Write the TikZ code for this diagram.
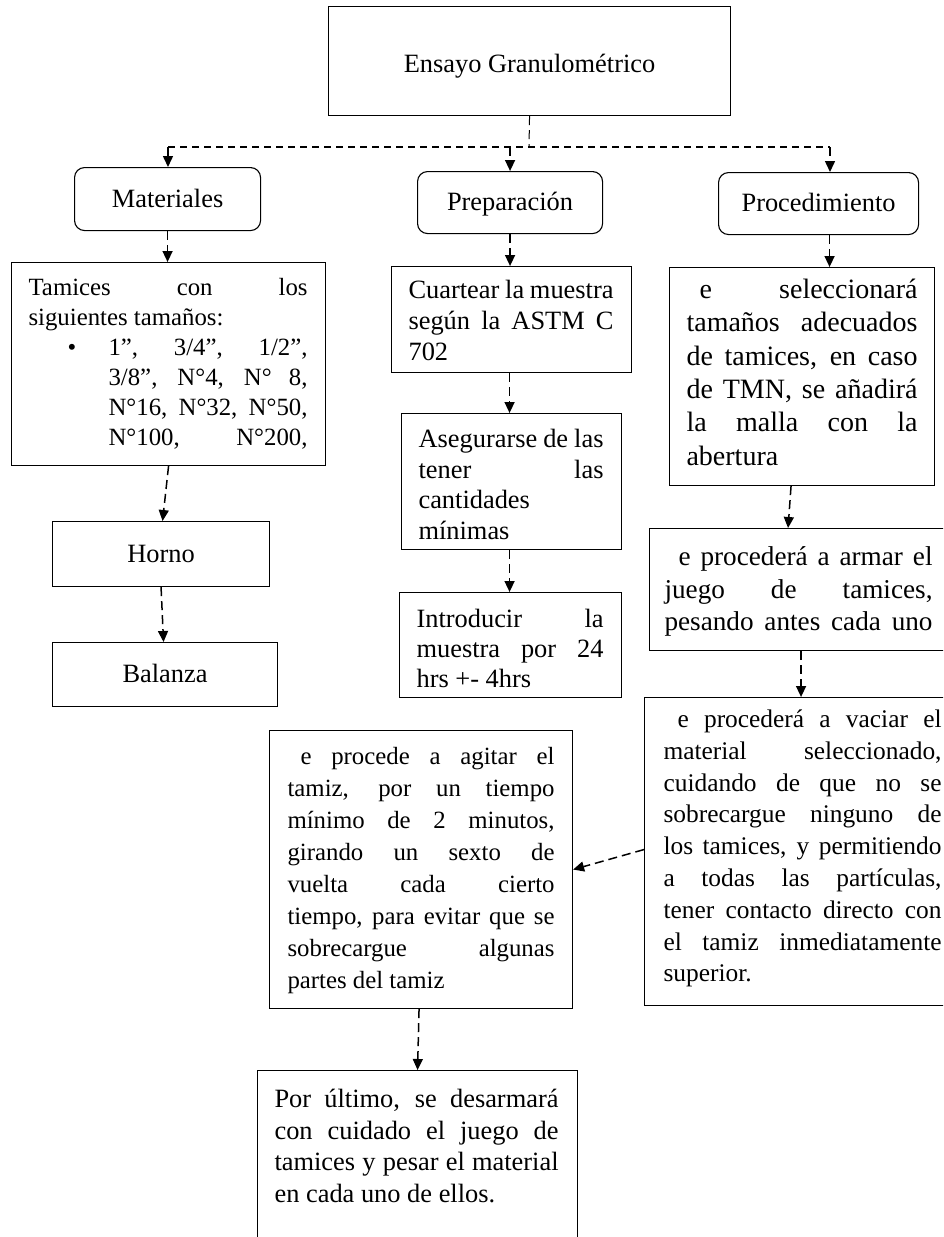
\documentclass[tikz,border=0pt]{standalone}
\usepackage{fontspec}
\setmainfont{Liberation Serif}
\usetikzlibrary{arrows.meta,calc}
\newcommand\jl[2]{\makebox[#1pt][s]{#2}\\}
\newcommand\jlast[2]{\makebox[#1pt][s]{#2}}
% [#1 font size] #2 W, #3 H, #4 left pad, #5 first baseline, #6 baselineskip, #7 lines
\newcommand\tbx[7][26.4]{\parbox[t][#3pt][t]{#2pt}{\fontsize{#1pt}{#6pt}\selectfont\leftskip=#4pt\parindent=0pt\noindent\rule{0pt}{#5pt}#7}}
\tikzset{
  box/.style={draw, line width=1.1pt, inner sep=0pt, anchor=north west},
  sbox/.style={box, font=\fontsize{26.4pt}{30pt}\selectfont, text height=20pt, text depth=4pt},
  rbox/.style={sbox, rounded corners=10pt},
  dsh/.style={dash pattern=on 9pt off 5pt},
  conn/.style={draw, line width=1.5pt, dsh, -{Triangle[width=10pt,length=11pt]}},
}
\begin{document}
\begin{tikzpicture}[x=1pt,y=-1pt]
\path[use as bounding box] (0,0) rectangle (943,1237);
\fill[white] (0,0) rectangle (943,1237);
\clip (0,0) rectangle (943,1237);

\node[sbox, minimum width=402pt, minimum height=109pt] (tit) at (328,6) {\raisebox{-3pt}{Ensayo Granulométrico}};
\node[rbox, minimum width=186pt, minimum height=63pt] (mat) at (74,167) {Materiales};
\node[rbox, minimum width=185pt, minimum height=62pt] (prep) at (417,171) {Preparación};
\node[rbox, minimum width=200pt, minimum height=62pt] (proc) at (718,172) {Procedimiento};

\node[box] (tam) at (11,262) {\tbx[24.8]{314}{203}{17}{33}{30}{%
\jl{279}{Tamices con los}
siguientes tamaños:\\
\hspace*{39pt}\makebox[41pt][l]{•}\jl{199}{1”, 3/4”, 1/2”,}
\hspace*{80pt}\jl{199}{3/8”, N°4, N° 8,}
\hspace*{80pt}\jl{199}{N°16, N°32, N°50,}
\hspace*{80pt}\jlast{199}{N°100, N°200,}}};

\node[sbox, minimum width=217pt, minimum height=65pt] (hor) at (52,521) {Horno};
\node[sbox, minimum width=225pt, minimum height=64pt] (bal) at (52,642) {Balanza};

\node[box] (cua) at (391,266) {\tbx{240}{106}{17}{32}{31}{%
\jl{205}{Cuartear la muestra}
\jl{205}{según la ASTM C}
702}};
\node[box] (ase) at (401,413) {\tbx{220}{136}{17}{34}{30.5}{%
\jl{185}{Asegurarse de las}
\jl{185}{tener las}
cantidades\\
mínimas}};
\node[box] (int) at (399,592) {\tbx{222}{105}{17}{35}{30}{%
\jl{187}{Introducir la}
\jl{187}{muestra por 24}
hrs +- 4hrs}};

\node[box] (sel) at (669,267) {\tbx[28]{265}{218}{17}{31}{33.3}{%
\jl{231}{\hspace*{13pt}e seleccionará}
\jl{231}{tamaños adecuados}
\jl{231}{de tamices, en caso}
\jl{231}{de TMN, se añadirá}
\jl{231}{la malla con la}
abertura}};
\node[box] (arm) at (649,528) {\tbx[27.2]{301}{122}{15}{37}{32.5}{%
\jl{268}{\hspace*{14pt}e procederá a armar el}
\jl{268}{juego de tamices,}
\jlast{268}{pesando antes cada uno}}};
\node[box] (vac) at (644,697) {\tbx[25.4]{314}{308}{19}{30}{31.8}{%
\jl{278}{\hspace*{14pt}e procederá a vaciar el}
\jl{278}{material seleccionado,}
\jl{278}{cuidando de que no se}
\jl{278}{sobrecargue ninguno de}
\jl{278}{los tamices, y permitiendo}
\jl{278}{a todas las partículas,}
\jl{278}{tener contacto directo con}
\jl{278}{el tamiz inmediatamente}
superior.}};
\node[box] (agi) at (269,730) {\tbx[24.8]{303}{278}{18}{34}{32}{%
\jl{267}{\hspace*{13pt}e procede a agitar el}
\jl{267}{tamiz, por un tiempo}
\jl{267}{mínimo de 2 minutos,}
\jl{267}{girando un sexto de}
\jl{267}{vuelta cada cierto}
\jl{267}{tiempo, para evitar que se}
\jl{267}{sobrecargue algunas}
partes del tamiz}};
\node[box] (por) at (257,1070) {\tbx{320}{200}{17}{37}{31.7}{%
\jl{284}{Por último, se desarmará}
\jl{284}{con cuidado el juego de}
\jl{284}{tamices y pesar el material}
en cada uno de ellos.}};

% branching from the title
\coordinate (jc) at (529,147);
\coordinate (jl) at (168,147);
\coordinate (jr) at (830,147);
\draw[line width=1pt, dsh] (tit.south) -- (jc);
\draw[line width=1.5pt, dash pattern=on 7pt off 5pt] (jl) -- (jr);
\draw[conn] (jl) -- (jl |- mat.north);
\draw[conn] (jl -| prep.north) -- (prep.north);
\draw[conn] (jr) -- (jr |- proc.north);

% left column
\draw[conn] (mat.south) -- (mat.south |- tam.north);
\draw[conn] (tam.south) -- ([xshift=1.5pt]hor.north);
\draw[conn] (hor.south) -- ([xshift=-1.5pt]bal.north);

% middle column
\draw[conn] (prep.south) -- (prep.south |- cua.north);
\draw[conn] ([xshift=-2pt]cua.south) -- ([xshift=-2pt]cua.south |- ase.north);
\draw[conn] ([xshift=-2pt]ase.south) -- ([xshift=-2pt]ase.south |- int.north);

% right column
\draw[conn] ([xshift=11pt]proc.south) -- ([xshift=11pt]proc.south |- sel.north);
\draw[conn] ([xshift=-11pt]sel.south) -- ([xshift=-12pt]arm.north);
\draw[conn] ([xshift=1pt]arm.south) -- ([xshift=1pt]arm.south |- vac.north);
\draw[conn] ([yshift=2pt]vac.west) -- (agi.east);
\draw[conn] ([xshift=-2pt]agi.south) -- (por.north);
\end{tikzpicture}
\end{document}
